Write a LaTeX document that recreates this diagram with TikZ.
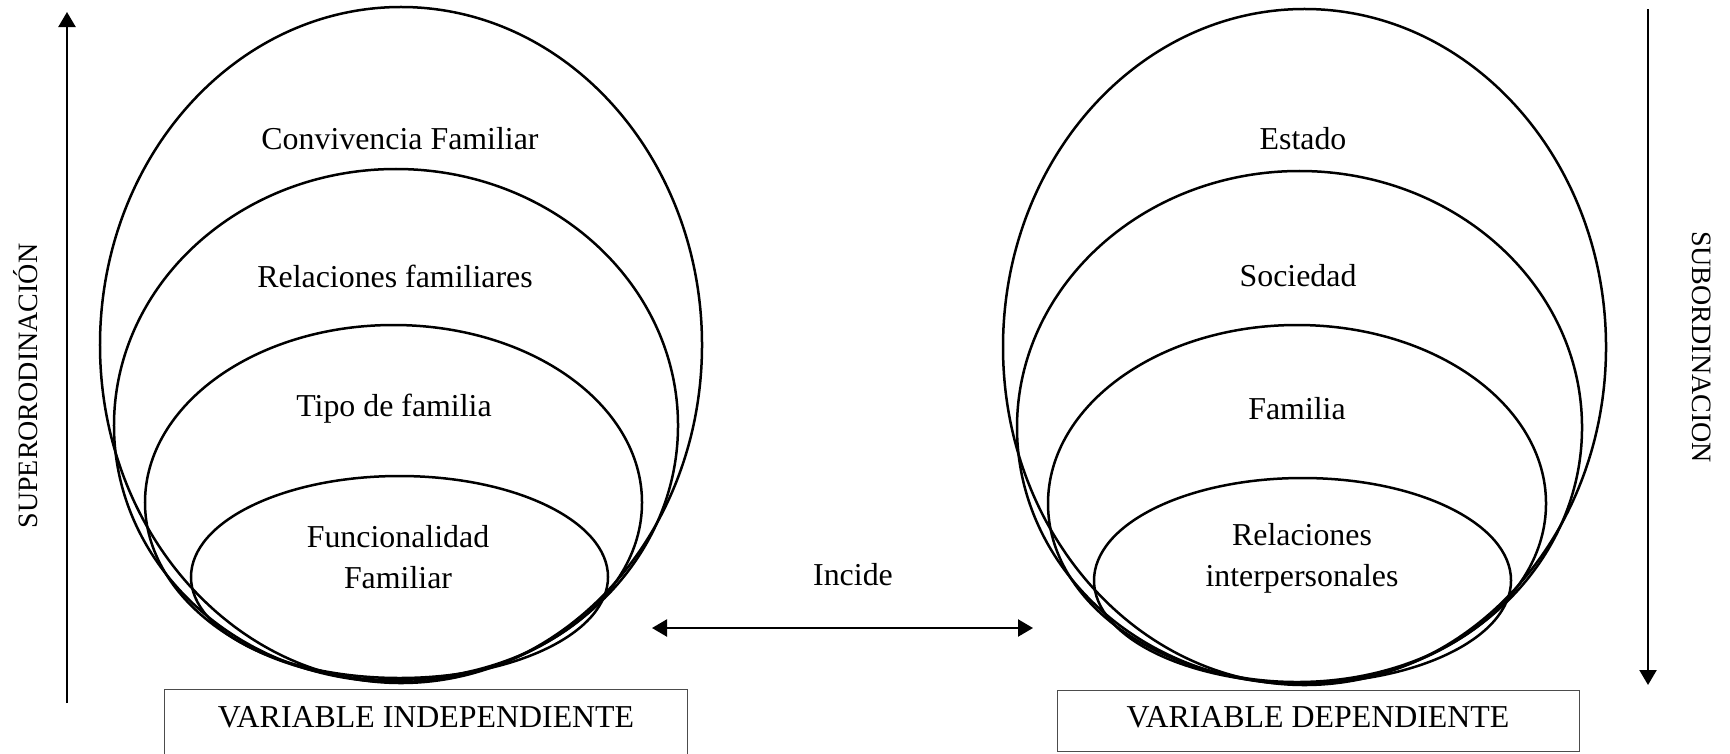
\documentclass[tikz,border=0pt]{standalone}
\usepackage{fontspec}
\setmainfont{Liberation Serif}
\usetikzlibrary{arrows.meta}
\begin{document}
\begin{tikzpicture}[x=0.4pt,y=-0.4pt,
  ring/.style={draw=black,line width=1pt},
  lbl/.style={font=\fontsize{12.75}{16.4}\selectfont,align=center,inner sep=0pt},
  side/.style={font=\fontsize{11.2}{13}\selectfont,inner sep=0pt},
  axis/.style={line width=0.9pt,-{Triangle[width=6.8pt,length=6pt]}},
  both/.style={line width=0.9pt,{Triangle[width=6.8pt,length=6pt]}-{Triangle[width=6.8pt,length=6pt]}},
  varbox/.style={draw=black!70,line width=0.5pt,minimum height=28.4pt,inner sep=0pt}]
\useasboundingbox (0,0) rectangle (1730,753);
% left ellipses
\draw[ring] (401,345) ellipse [x radius=120.4pt,y radius=135.2pt];
\draw[ring] (396,425.5) ellipse [x radius=112.8pt,y radius=102.6pt];
\draw[ring] (393.5,502.5) ellipse [x radius=99.4pt,y radius=71pt];
\draw[ring] (399.5,577) ellipse [x radius=83.4pt,y radius=40.4pt];
% right ellipses
\draw[ring] (1304.5,347) ellipse [x radius=120.6pt,y radius=135.2pt];
\draw[ring] (1299.5,427.5) ellipse [x radius=113pt,y radius=102.6pt];
\draw[ring] (1297,503.5) ellipse [x radius=99.6pt,y radius=71.4pt];
\draw[ring] (1302.5,580.5) ellipse [x radius=83.4pt,y radius=41pt];
% labels
\node[lbl] (conv) at (400,139) {Convivencia Familiar};
\node[lbl] (relf) at (395,276) {Relaciones familiares};
\node[lbl] (tipo) at (394,409) {Tipo de familia};
\node[lbl] (func) at (398,557) {Funcionalidad\\Familiar};
\node[lbl] (est) at (1303,139) {Estado};
\node[lbl] (soc) at (1298,276) {Sociedad};
\node[lbl] (fam) at (1297,409) {Familia};
\node[lbl] (reli) at (1302,558) {Relaciones\\interpersonales};
\node[lbl] (inc) at (853,575) {Incide};
\node[side,rotate=90] (sup) at (26,386) {SUPERORODINACIÓN};
\node[side,rotate=-90] (sub) at (1702,347) {SUBORDINACION};
% boxes
\node[varbox,minimum width=209.2pt,anchor=north west] (vi) at (164,689) {};
\node[lbl] (vit) at (426,717) {VARIABLE INDEPENDIENTE};
\node[varbox,minimum width=208.8pt,minimum height=24.4pt,anchor=north west] (vd) at (1057,690) {};
\node[lbl] (vdt) at (1318,717) {VARIABLE DEPENDIENTE};
% arrows
\coordinate (a1) at (67,703);
\coordinate (a2) at (67,12);
\coordinate (b1) at (1648,9);
\coordinate (b2) at (1648,685);
\coordinate (c1) at (652,628);
\coordinate (c2) at (1033,628);
\draw[axis] (a1) -- (a2);
\draw[axis] (b1) -- (b2);
\draw[both] (c1) -- (c2);
\end{tikzpicture}
\end{document}
